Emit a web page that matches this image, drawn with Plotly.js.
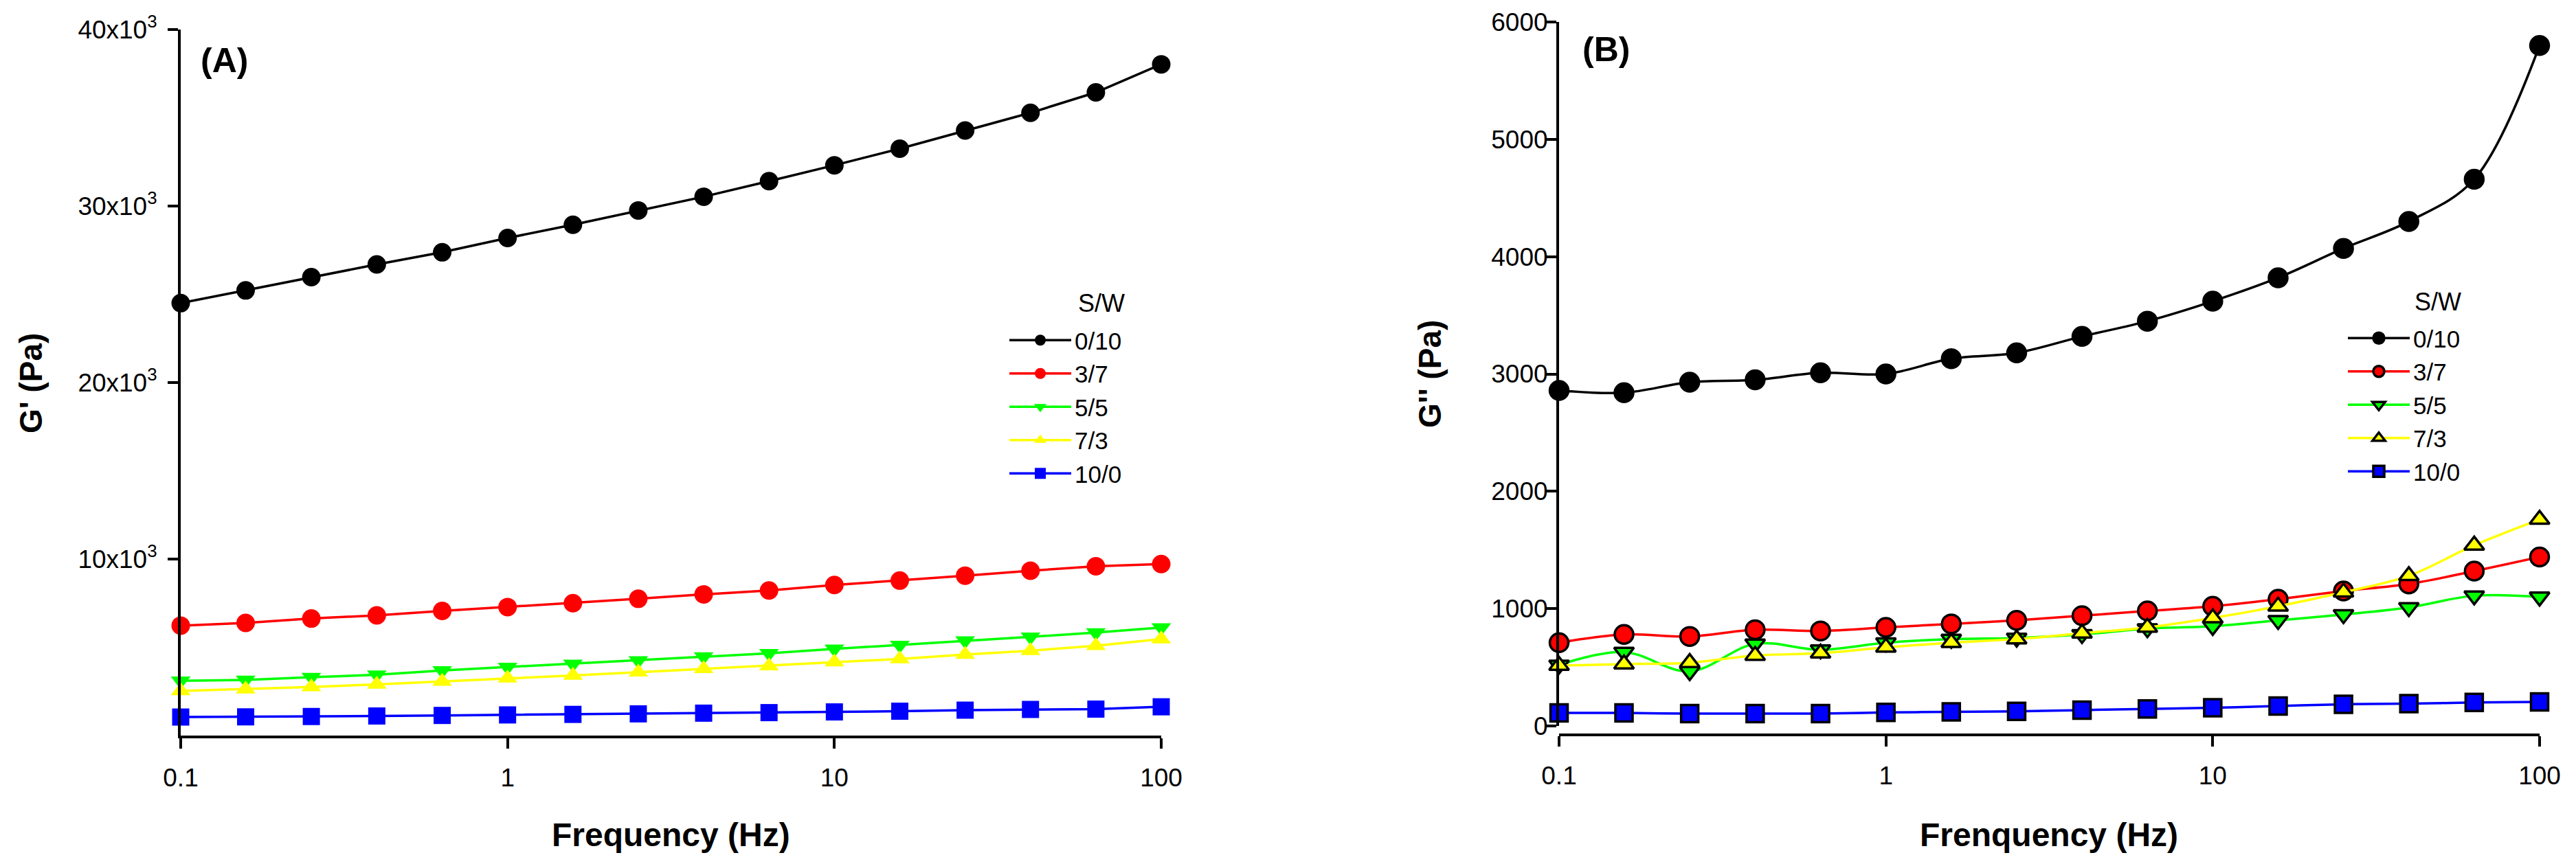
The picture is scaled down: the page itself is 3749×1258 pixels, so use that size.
<!DOCTYPE html>
<html>
<head>
<meta charset="utf-8">
<script src="https://cdn.plot.ly/plotly-3.0.1.min.js"></script>
<style>
	html, body {margin:0; padding:0; background:#ffffff;}
	#tester {width:3749px; height:1258px;}
</style>
</head>
<body>
<div id="tester"></div>
<script>
// frequency sweep, 5 points per decade
var freq = [0.1, 0.158, 0.251, 0.398, 0.631, 1, 1.585, 2.512, 3.981, 6.31, 10, 15.85, 25.12, 39.81, 63.1, 100];

var names = ["0/10", "3/7", "5/5", "7/3", "10/0"];
var colors = ["#000000", "#ff0000", "#00ff00", "#ffff00", "#0000ff"];
var symbols = ["circle", "circle", "triangle-down", "triangle-up", "square"];

// (A) storage modulus G' (Pa)
var gp_0_10 = [24500, 25220, 25970, 26690, 27380, 28190, 28940, 29750, 30530, 31410, 32310, 33250, 34280, 35280, 36440, 38030];
var gp_3_7 = [6230, 6380, 6630, 6810, 7060, 7280, 7500, 7750, 8000, 8220, 8530, 8780, 9060, 9340, 9590, 9720];
var gp_5_5 = [3100, 3150, 3310, 3440, 3690, 3880, 4060, 4250, 4470, 4660, 4910, 5130, 5380, 5590, 5840, 6120];
var gp_7_3 = [2530, 2630, 2750, 2900, 3060, 3250, 3400, 3590, 3780, 3940, 4160, 4340, 4590, 4810, 5090, 5470];
var gp_10_0 = [1050, 1060, 1080, 1110, 1140, 1170, 1200, 1230, 1270, 1300, 1340, 1380, 1440, 1480, 1500, 1630];

// (B) loss modulus G'' (Pa)
var gpp_0_10 = [2860, 2840, 2930, 2950, 3010, 3000, 3130, 3180, 3320, 3450, 3620, 3820, 4070, 4300, 4660, 5800];
var gpp_3_7 = [710, 780, 763, 820, 810, 840, 870, 900, 940, 980, 1020, 1080, 1150, 1210, 1320, 1440];
var gpp_5_5 = [520, 630, 465, 700, 650, 710, 740, 750, 780, 830, 850, 900, 950, 1010, 1110, 1100];
var gpp_7_3 = [515, 527, 539, 600, 620, 670, 710, 740, 790, 840, 920, 1020, 1140, 1280, 1540, 1760];
var gpp_10_0 = [111, 111, 105, 105, 105, 115, 120, 125, 135, 145, 155, 170, 185, 190, 200, 205];

var xTicks = [0.1, 1, 10, 100];
var xTickText = ["0.1", "1", "10", "100"];
var yTicksA = [10000, 20000, 30000, 40000];
var yTickTextA = ["10x10<sup>3</sup>", "20x10<sup>3</sup>", "30x10<sup>3</sup>", "40x10<sup>3</sup>"];
var yTicksB = [0, 1000, 2000, 3000, 4000, 5000, 6000];

var W = 3749, H = 1258;
var FONT = "Liberation Sans, Arial, sans-serif";

function px(x){ return x / W; }
function py(y){ return 1 - y / H; }

function makeTraces(series, xa, ya, leg, outlined, shape){
	var out = [];
	for (var i = 0; i < series.length; i++){
		var sz = symbols[i] == "square" ? 25 : (symbols[i] == "circle" ? 27 : 25);
		out.push({
			x: freq,
			y: series[i],
			name: names[i],
			type: "scatter",
			mode: "lines+markers",
			xaxis: xa,
			yaxis: ya,
			legend: leg,
			cliponaxis: false,
			line: {color: colors[i], width: 3.5, shape: shape, smoothing: 1},
			marker: {
				symbol: symbols[i],
				size: sz,
				color: colors[i],
				line: {color: "#000000", width: outlined ? 3.5 : 0}
			}
		});
	}
	return out;
}

var data = makeTraces([gp_0_10, gp_3_7, gp_5_5, gp_7_3, gp_10_0], "x", "y", "legend", false, "linear")
	.concat(makeTraces([gpp_0_10, gpp_3_7, gpp_5_5, gpp_7_3, gpp_10_0], "x2", "y2", "legend2", true, "spline"));

var axisCommon = {
	showgrid: false,
	zeroline: false,
	showline: true,
	linecolor: "#000000",
	linewidth: 4,
	ticks: "outside",
	ticklen: 15,
	tickwidth: 4,
	tickcolor: "#000000",
	tickfont: {family: FONT, size: 37, color: "#000000"}
};

function ax(extra){
	var o = {};
	for (var k in axisCommon) o[k] = axisCommon[k];
	for (var k in extra) o[k] = extra[k];
	return o;
}

var legendCommon = {
	bgcolor: "rgba(0,0,0,0)",
	font: {family: FONT, size: 35, color: "#000000"},
	xanchor: "left",
	yanchor: "top",
	tracegroupgap: 0,
	itemwidth: 90,
	itemsizing: "trace"
};

function label(text, x, y, size, angle, xanchor){
	return {
		text: text, x: px(x), y: py(y), xref: "paper", yref: "paper",
		xanchor: xanchor || "center", yanchor: "middle",
		textangle: angle || 0, showarrow: false,
		font: {family: FONT, size: size, color: "#000000"}
	};
}

var layout = {
	width: W,
	height: H,
	margin: {l:0, r:0, t:0, b:0},
	paper_bgcolor: "#ffffff",
	plot_bgcolor: "#ffffff",
	showlegend: true,
	font: {family: FONT, color: "#000000"},
	xaxis: ax({
		type: "log",
		domain: [px(263), px(1690)],
		range: [-1, 2],
		tickvals: xTicks,
		ticktext: xTickText,
		anchor: "y",
		ticklabelstandoff: 11
	}),
	yaxis: ax({
		domain: [py(1071), py(43)],
		range: [0, 40000],
		tickvals: yTicksA,
		ticktext: yTickTextA,
		anchor: "x",
		ticklabelstandoff: 8
	}),
	xaxis2: ax({
		type: "log",
		domain: [px(2269), px(3696)],
		range: [-1, 2],
		tickvals: xTicks,
		ticktext: xTickText,
		anchor: "free",
		position: py(1070),
		ticklabelstandoff: 11
	}),
	yaxis2: ax({
		domain: [py(1057), py(32)],
		range: [0, 6000],
		tickvals: yTicksB,
		anchor: "x2",
		ticklabelstandoff: -10
	}),
	legend: Object.assign({}, legendCommon, {x: px(1464), y: py(466)}),
	legend2: Object.assign({}, legendCommon, {x: px(3412), y: py(463)}),
	annotations: [
		label("<b>(A)</b>", 326, 88, 50),
		label("<b>(B)</b>", 2337, 72, 50),
		label("S/W", 1567, 442, 36, 0, "left"),
		label("S/W", 3512, 439, 36, 0, "left"),
		label("<b>G' (Pa)</b>", 45, 558, 46, -90),
		label("<b>G'' (Pa)</b>", 2081, 545, 46, -90),
		label("<b>Frequency (Hz)</b>", 976, 1215, 48),
		label("<b>Frenquency (Hz)</b>", 2982, 1215, 48)
	]
};

Plotly.newPlot("tester", data, layout, {staticPlot: true});
</script>
</body>
</html>
